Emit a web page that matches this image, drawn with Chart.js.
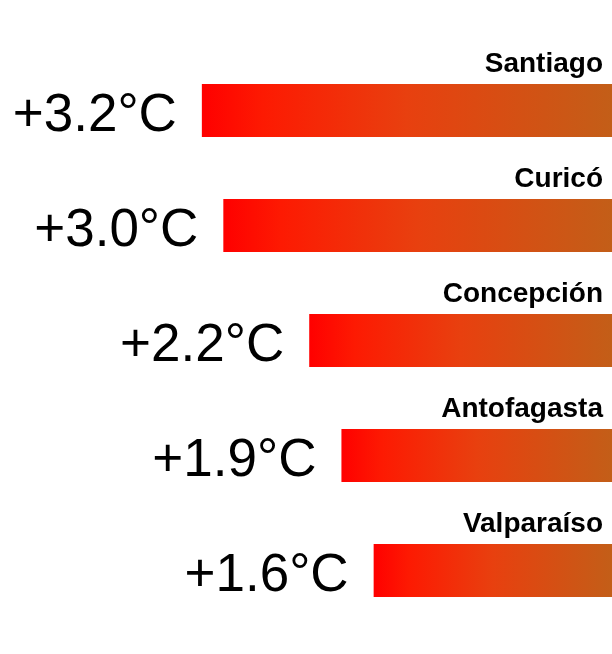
<!DOCTYPE html>
<html>
<head>
<meta charset="utf-8">
<script src="https://cdn.jsdelivr.net/npm/chart.js@4"></script>
<style>
  html, body { margin: 0; padding: 0; background: #fff; }
  #wrap { width: 612px; height: 654px; }
</style>
</head>
<body>
<div id="wrap"><canvas id="chart" width="612" height="654"></canvas></div>
<script>
// datos
const cities = ['Santiago', 'Curicó', 'Concepción', 'Antofagasta', 'Valparaíso'];
const warming = [3.2, 3.0, 2.2, 1.9, 1.6];
const valueLabels = ['+3.2°C', '+3.0°C', '+2.2°C', '+1.9°C', '+1.6°C'];

const AXIS_MIN = -0.62;
const AXIS_MAX = 5.08;

// degradado rojo -> naranja por cada barra
function barGradient(c) {
    const chart = c.chart;
    const xs = chart.scales.x;
    if (!chart.chartArea || !xs || c.dataIndex === undefined) return '#ff0000';
    const left = xs.getPixelForValue(c.raw);
    const right = xs.getPixelForValue(AXIS_MIN);
    const g = chart.ctx.createLinearGradient(left, 0, right, 0);
    g.addColorStop(0, '#ff0000');
    g.addColorStop(0.15, '#fd1a02');
    g.addColorStop(0.5, '#e8400f');
    g.addColorStop(1, '#c35e18');
    return g;
}

// textos: valor a la izquierda, ciudad encima
const labelsPlugin = {
    id: 'labels',
    afterDatasetsDraw(chart) {
        const ctx = chart.ctx;
        const meta = chart.getDatasetMeta(0);
        ctx.save();
        meta.data.forEach((bar, i) => {
            const top = bar.y - bar.height / 2;
            ctx.fillStyle = '#000';
            ctx.font = '53px Arial, "Liberation Sans", sans-serif';
            ctx.textAlign = 'right';
            ctx.textBaseline = 'middle';
            ctx.fillText(valueLabels[i], bar.x - 25, bar.y + 6);

            ctx.font = 'bold 28px Arial, "Liberation Sans", sans-serif';
            ctx.textBaseline = 'alphabetic';
            ctx.fillText(cities[i], 603, top - 12);
        });
        ctx.restore();
    }
};

new Chart(document.getElementById('chart'), {
    type: 'bar',
    data: {
        labels: cities,
        datasets: [{
            data: warming,
            base: AXIS_MIN,
            backgroundColor: barGradient,
            borderWidth: 0,
            barPercentage: 0.46,
            categoryPercentage: 1
        }]
    },
    options: {
        indexAxis: 'y',
        responsive: false,
        animation: false,
        layout: { padding: { top: 53, bottom: 26, left: 0, right: 0 } },
        plugins: { legend: { display: false }, tooltip: { enabled: false } },
        scales: {
            x: { display: false, reverse: true, min: AXIS_MIN, max: AXIS_MAX },
            y: { display: false }
        }
    },
    plugins: [labelsPlugin]
});
</script>
</body>
</html>
